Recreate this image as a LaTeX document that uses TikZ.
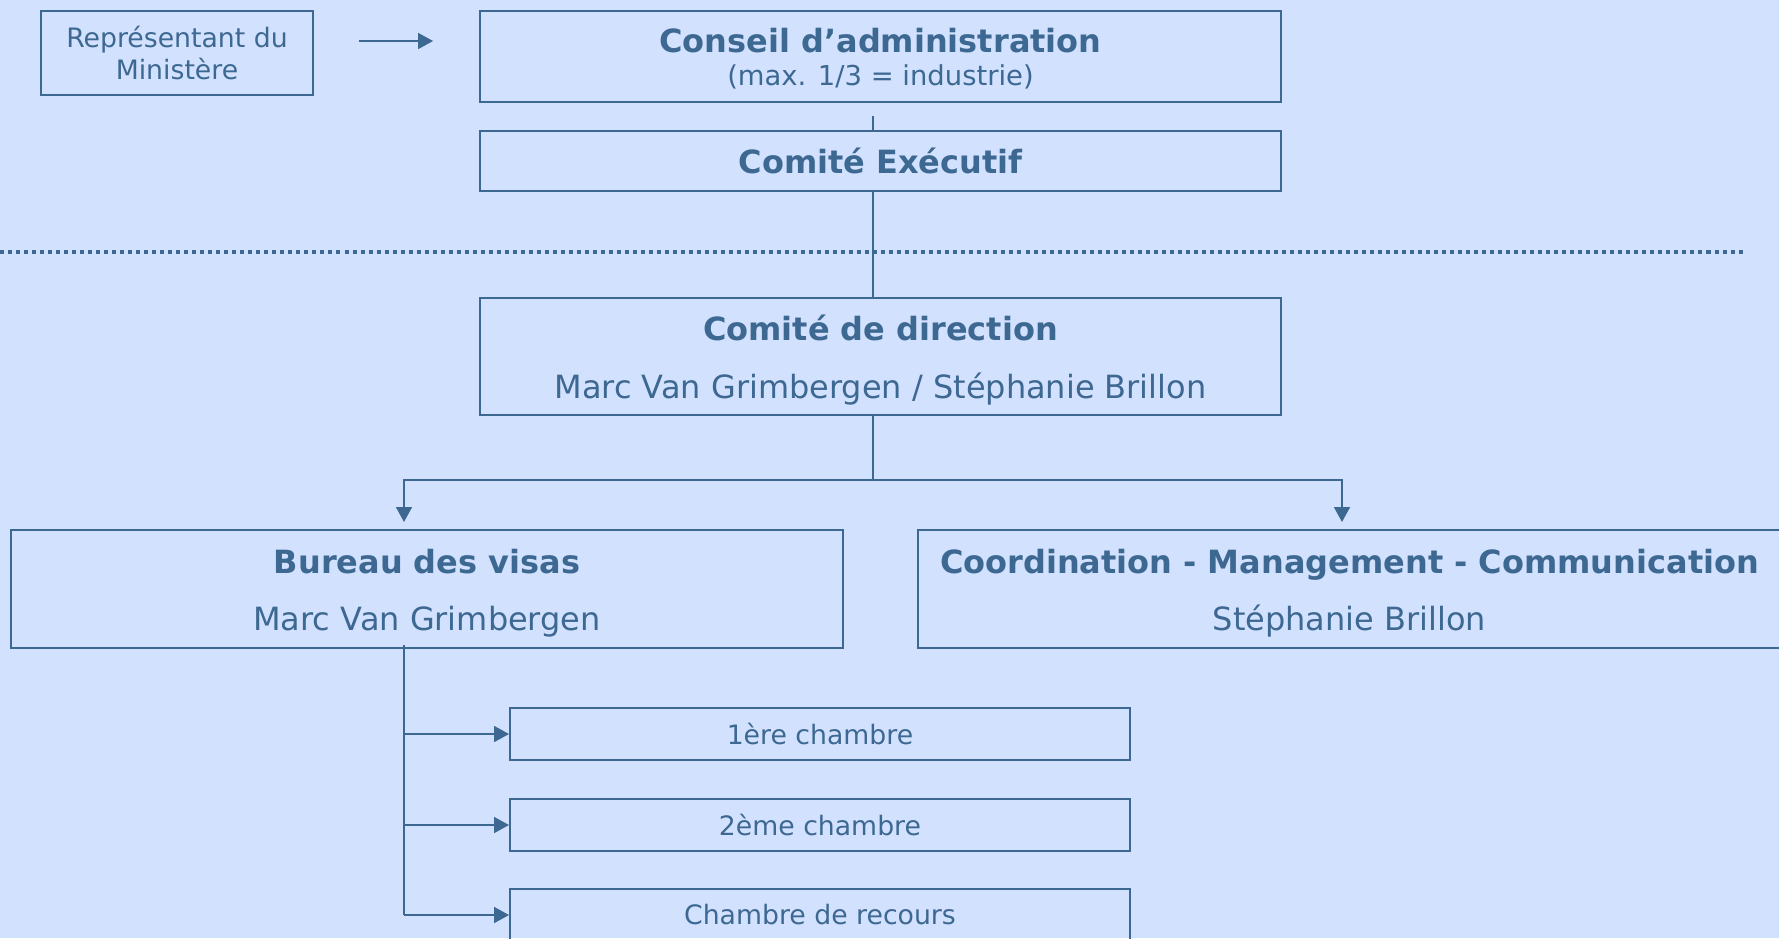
\documentclass[tikz,border=0pt]{standalone}
\usepackage{fontspec}
\setmainfont{DejaVu Sans}
\usetikzlibrary{arrows.meta}

\definecolor{orgblue}{RGB}{61,104,145}
\definecolor{orgbg}{RGB}{210,225,254}

\newcommand{\bigfont}{\fontsize{18.2}{22}\selectfont}
\newcommand{\smallfont}{\fontsize{15.2}{18.2}\selectfont}
\newcommand{\toppad}[1]{\rule{0pt}{#1}}

\begin{document}
\begin{tikzpicture}[x=0.02cm,y=-0.02cm,
  box/.style={draw=orgblue,line width=1.14pt,text=orgblue,align=center,inner sep=0pt},
  link/.style={draw=orgblue,line width=1.14pt},
  arr/.style={link,-{Triangle[length=8.5pt,width=9pt]}}]
  \useasboundingbox (0,0) rectangle (1779,938);
  \fill[orgbg] (0,0) rectangle (1779,938);
  \clip (0,0) rectangle (1779,938);

  \draw[orgblue,line width=2.28pt,dash pattern=on 2.28pt off 2.28pt] (0,252) --(1746,252);

  \path (177,53) node[box,minimum width=5.44cm,minimum height=1.68cm,font=\smallfont] (nrep) {Représentant du\\Ministère};
  \path (880.5,56.5) node[box,minimum width=16.02cm,minimum height=1.82cm,font=\bigfont] (nconseil) {\toppad{16pt}\textbf{Conseil d’administration}\\[-3.5pt]{\fontsize{15.6}{18}\selectfont (max. 1/3 = industrie)}};
  \path (880.5,161) node[box,minimum width=16.02cm,minimum height=1.2cm,font=\bigfont\bfseries] (ncomex) {Comité Exécutif};
  \path (880.5,356.5) node[box,minimum width=16.02cm,minimum height=2.34cm,font=\bigfont] (ncodir) {\toppad{18.6pt}\textbf{Comité de direction}\\[11pt]Marc Van Grimbergen / Stéphanie Brillon};

  \path (427,589) node[box,minimum width=16.64cm,minimum height=2.36cm,font=\bigfont] (nbureau) {\toppad{18.5pt}\textbf{Bureau des visas}\\[10.4pt]Marc Van Grimbergen};
  \path (1349.5,589) node[box,minimum width=17.26cm,minimum height=2.36cm,font=\bigfont] (ncoord) {\toppad{18.5pt}\textbf{Coordination - Management - Communication}\\[10.4pt]Stéphanie Brillon};

  \path (820,734) node[box,minimum width=12.4cm,minimum height=1.04cm,font=\smallfont] (nch1) {1ère chambre};
  \path (820,825) node[box,minimum width=12.4cm,minimum height=1.04cm,font=\smallfont] (nch2) {2ème chambre};
  \path (820,915) node[box,minimum width=12.4cm,minimum height=1.04cm,font=\smallfont] (nch3) {Chambre de recours};

  \coordinate (trunk) at (873,0);
  \coordinate (lx) at (404,0);
  \coordinate (rx) at (1342,0);

  \draw[arr] ([shift={(45,-12)}]nrep.east) --([shift={(-46,-15.5)}]nconseil.west);
  \draw[link] (nconseil.south -| trunk) ++(0,13) --(ncomex.north -| trunk);
  \draw[link] (ncomex.south -| trunk) --(ncodir.north -| trunk);
  \draw[link] (ncodir.south -| trunk) --++(0,64) coordinate (nfork);
  \draw[arr,shorten >=0.14cm] (nfork) -| (nbureau.north -| lx);
  \draw[arr,shorten >=0.14cm] (nfork) -| (ncoord.north -| rx);

  \draw[link] (nbureau.south -| lx) ++(0,-4) --(nch3.west -| lx);
  \draw[arr] (nch1.west -| lx) --(nch1.west);
  \draw[arr] (nch2.west -| lx) --(nch2.west);
  \draw[arr] (nch3.west -| lx) --(nch3.west);
\end{tikzpicture}
\end{document}
